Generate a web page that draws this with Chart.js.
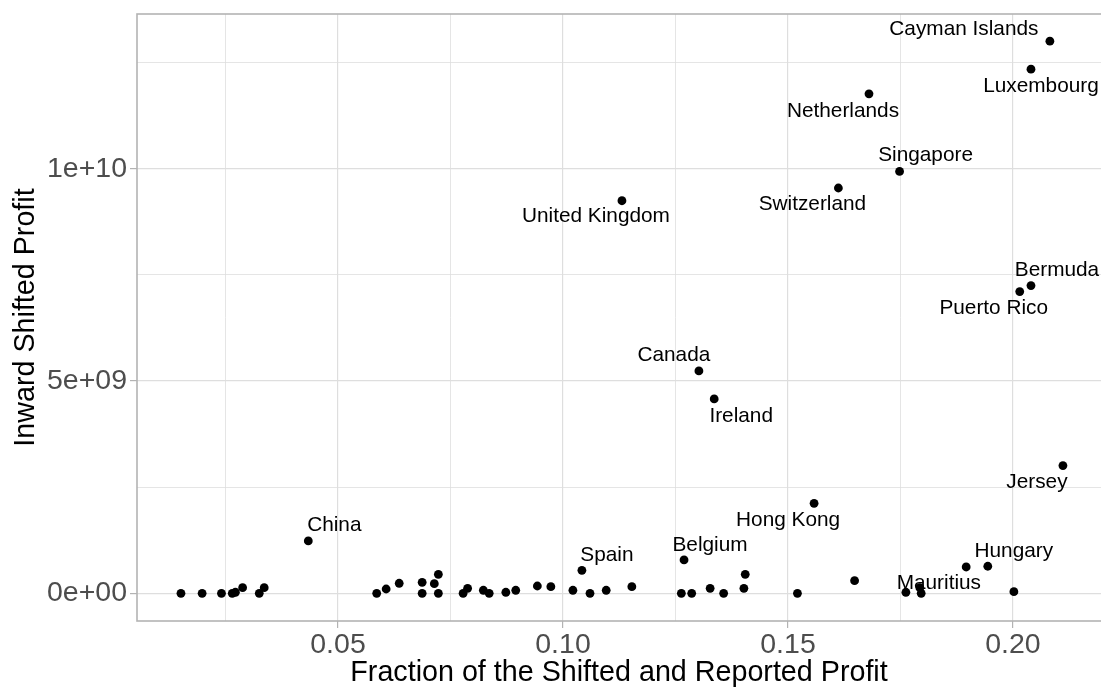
<!DOCTYPE html>
<html>
<head>
<meta charset="utf-8">
<script src="https://cdn.jsdelivr.net/npm/chart.js@4.4.1/dist/chart.umd.min.js"></script>
<style>
  html, body { margin: 0; padding: 0; background: #fff; }
  canvas { display: block; }
</style>
</head>
<body>
<canvas id="chart" width="1101" height="688"></canvas>
<script>
// country names ('' = not labelled), x = fraction of shifted+reported profit, y = inward shifted profit
const countries = [
  '', '', '', '', '', '', '', '', 'China', '',
  '', '', '', '', '', '', '', '', '', '',
  '', '', '', '', '', '', 'Spain', '', '', 'United Kingdom',
  '', '', 'Belgium', '', 'Canada', '', 'Ireland', '', '', '',
  '', 'Hong Kong', 'Switzerland', '', 'Netherlands', 'Singapore', '', 'Mauritius', '', '',
  'Hungary', '', 'Puerto Rico', 'Luxembourg', 'Bermuda', 'Cayman Islands', 'Jersey'
];
const shiftFraction = [
  0.0151, 0.0198, 0.0241, 0.0265, 0.0272, 0.0288, 0.0325, 0.0336, 0.0434, 0.0586,
  0.0607, 0.0636, 0.0687, 0.0687, 0.0714, 0.0723, 0.0723, 0.0778, 0.0788, 0.0823,
  0.0836, 0.0873, 0.0895, 0.0943, 0.0973, 0.1022, 0.1042, 0.1060, 0.1096, 0.1131,
  0.1153, 0.1263, 0.1269, 0.1286, 0.1302, 0.1327, 0.1336, 0.1357, 0.1402, 0.1405,
  0.1521, 0.1558, 0.1612, 0.1648, 0.1680, 0.1748, 0.1762, 0.1793, 0.1796, 0.1896,
  0.1944, 0.2002, 0.2015, 0.2040, 0.2040, 0.2082, 0.2111
];
const inwardProfit = [
  0, 0, 0, 0, 2.4e7, 1.32e8, 0, 1.32e8, 1.233e9, 0,
  1.01e8, 2.36e8, 2.59e8, 0, 2.26e8, 4.48e8, 0, 0, 1.18e8, 7.1e7,
  0, 2.4e7, 7.1e7, 1.72e8, 1.56e8, 7.1e7, 5.42e8, 0, 7.1e7, 9.25e9,
  1.56e8, 0, 7.85e8, 0, 5.24e9, 1.18e8, 4.58e9, 0, 1.18e8, 4.48e8,
  0, 2.12e9, 9.55e9, 2.97e8, 1.177e10, 9.94e9, 2.4e7, 1.32e8, 0, 6.2e8,
  6.37e8, 3.8e7, 7.11e9, 1.235e10, 7.25e9, 1.301e10, 3.01e9
];

const xMajorTicks = [0.05, 0.10, 0.15, 0.20];
const xMinorTicks = [0.025, 0.075, 0.125, 0.175];
const yMajorTicks = [0, 5e9, 1e10];
const yMajorLabels = ['0e+00', '5e+09', '1e+10'];
const yMinorTicks = [2.5e9, 7.5e9, 1.25e10];

// where each text label sits relative to its point (px)
const labelOffsets = {
  'Cayman Islands': [-86, -12],
  'Luxembourg': [10, 17],
  'Netherlands': [-26, 17],
  'Singapore': [26, -16],
  'Switzerland': [-26, 16],
  'United Kingdom': [-26, 16],
  'Bermuda': [26, -15],
  'Puerto Rico': [-26, 17],
  'Canada': [-25, -16],
  'Ireland': [27, 17],
  'Jersey': [-26, 17],
  'Hong Kong': [-26, 17],
  'China': [26, -16],
  'Spain': [25, -15],
  'Belgium': [26, -15],
  'Hungary': [26, -15],
  'Mauritius': [19, -4]
};

const FONT = '"Liberation Sans", Arial, Helvetica, sans-serif';
Chart.defaults.font.family = FONT;

const points = shiftFraction.map((x, i) => ({ x: x, y: inwardProfit[i] }));

const isMajor = (list, v) => list.some(t => Math.abs(t - v) < 1e-9 * Math.max(1, Math.abs(t)));

const panelBorder = {
  id: 'panelBorder',
  beforeDatasetsDraw(chart) {
    const a = chart.chartArea;
    const ctx = chart.ctx;
    ctx.save();
    ctx.strokeStyle = '#b3b3b3';
    ctx.lineWidth = 1.6;
    ctx.strokeRect(a.left, a.top, a.right - a.left + 10, a.bottom - a.top);
    ctx.restore();
  }
};

const pointLabels = {
  id: 'pointLabels',
  afterDatasetsDraw(chart) {
    const ctx = chart.ctx;
    const meta = chart.getDatasetMeta(0);
    ctx.save();
    ctx.font = '20.8px ' + FONT;
    ctx.fillStyle = '#000';
    ctx.textAlign = 'center';
    ctx.textBaseline = 'middle';
    countries.forEach((name, i) => {
      if (!name) return;
      const el = meta.data[i];
      const off = labelOffsets[name] || [0, -16];
      ctx.fillText(name, el.x + off[0], el.y + off[1]);
    });
    ctx.restore();
  }
};

new Chart(document.getElementById('chart'), {
  type: 'scatter',
  data: {
    datasets: [{
      data: points,
      backgroundColor: '#000',
      borderWidth: 0,
      pointRadius: 4.4,
      pointHoverRadius: 4.4
    }]
  },
  options: {
    responsive: false,
    animation: false,
    events: [],
    layout: { padding: { top: 14, right: 0, bottom: 0, left: 0 }, autoPadding: false },
    plugins: { legend: { display: false }, tooltip: { enabled: false } },
    scales: {
      x: {
        type: 'linear',
        min: 0.00533,
        max: 0.21956,
        afterBuildTicks(scale) {
          scale.ticks = xMinorTicks.concat(xMajorTicks).sort((a, b) => a - b).map(v => ({ value: v }));
        },
        afterFit(scale) {
          scale.height = 67;
          scale.paddingLeft = 0;
          scale.paddingRight = 0;
        },
        border: { display: false },
        grid: {
          color: '#dedede',
          lineWidth: ctx => isMajor(xMajorTicks, ctx.tick.value) ? 1.2 : 0.8,
          tickLength: 7,
          tickWidth: 1.2,
          tickColor: ctx => isMajor(xMajorTicks, ctx.tick.value) ? '#b3b3b3' : 'rgba(0,0,0,0)'
        },
        ticks: {
          autoSkip: false,
          maxRotation: 0,
          padding: 0,
          color: '#4d4d4d',
          font: { size: 28.5 },
          callback: v => isMajor(xMajorTicks, v) ? v.toFixed(2) : ''
        },
        title: {
          display: true,
          text: 'Fraction of the Shifted and Reported Profit',
          color: '#000',
          font: { size: 28.7, lineHeight: 1 },
          padding: { top: 0, bottom: 1 }
        }
      },
      y: {
        type: 'linear',
        min: -6.53e8,
        max: 1.365e10,
        afterBuildTicks(scale) {
          scale.ticks = yMinorTicks.concat(yMajorTicks).sort((a, b) => a - b).map(v => ({ value: v }));
        },
        afterFit(scale) {
          scale.width = 137;
          scale.paddingTop = 0;
          scale.paddingBottom = 0;
        },
        border: { display: false },
        grid: {
          color: '#dedede',
          lineWidth: ctx => isMajor(yMajorTicks, ctx.tick.value) ? 1.2 : 0.8,
          tickLength: 7,
          tickWidth: 1.2,
          tickColor: ctx => isMajor(yMajorTicks, ctx.tick.value) ? '#b3b3b3' : 'rgba(0,0,0,0)'
        },
        ticks: {
          autoSkip: false,
          padding: 3,
          color: '#4d4d4d',
          font: { size: 28.5 },
          callback: v => {
            const i = yMajorTicks.findIndex(t => isMajor([t], v));
            return i >= 0 ? yMajorLabels[i] : '';
          }
        },
        title: {
          display: true,
          text: 'Inward Shifted Profit',
          color: '#000',
          font: { size: 28.7, lineHeight: 1.2 },
          padding: { top: 9, bottom: 0 }
        }
      }
    }
  },
  plugins: [panelBorder, pointLabels]
});
</script>
</body>
</html>
